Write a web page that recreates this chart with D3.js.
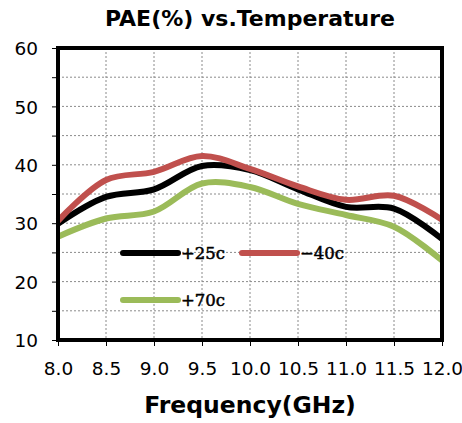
<!DOCTYPE html>
<html>
<head>
<meta charset="utf-8">
<script src="https://cdn.jsdelivr.net/npm/d3@7"></script>
<style>
  html, body { margin: 0; padding: 0; background: #fff; }
  svg { display: block; }
</style>
</head>
<body>
<svg id="chart" width="462" height="423"></svg>
<script>
// Frequency points (GHz)
const freqs = [8.0, 8.5, 9.0, 9.5, 10.0, 10.5, 11.0, 11.5, 12.0];
// PAE (%) per temperature
const pae25 = [29.9, 34.5, 35.8, 39.8, 39.1, 35.8, 32.8, 32.5, 27.3];
const paeM40 = [30.4, 37.4, 38.8, 41.5, 39.3, 36.3, 34.0, 34.7, 30.6];
const pae70 = [27.7, 30.8, 32.0, 36.8, 36.2, 33.3, 31.4, 29.4, 23.6];
const seriesNames = ["+25c", "\u221240c", "+70c"];
const seriesColors = ["#000000", "#C0504D", "#9BBB59"];
const xTicks = [8.0, 8.5, 9.0, 9.5, 10.0, 10.5, 11.0, 11.5, 12.0];
const yTicks = [10, 20, 30, 40, 50, 60];
const yMinor = [15, 25, 35, 45, 55];

const svg = d3.select("#chart");
const plotL = 58, plotR = 442, plotT = 48, plotB = 340;

const x = d3.scaleLinear().domain([8, 12]).range([plotL, plotR]);
const y = d3.scaleLinear().domain([10, 60]).range([plotB, plotT]);

// Grid
const grid = svg.append("g").attr("stroke", "#8a8a8a").attr("stroke-width", 1).attr("stroke-dasharray", "2,2");
xTicks.slice(1, -1).forEach(v => {
  grid.append("line").attr("x1", x(v)).attr("x2", x(v)).attr("y1", plotT).attr("y2", plotB);
});
yTicks.concat(yMinor).filter(v => v > 10 && v < 60).forEach(v => {
  grid.append("line").attr("x1", plotL).attr("x2", plotR).attr("y1", y(v)).attr("y2", y(v));
});

// Axes
const xAxis = d3.axisBottom(x).tickValues(xTicks).tickFormat(d3.format(".1f")).tickSize(6).tickPadding(16);
const yAxis = d3.axisLeft(y).tickValues(yTicks.concat(yMinor)).tickFormat(d => d % 10 === 0 ? d : "").tickSize(6).tickPadding(14);

const gx = svg.append("g").attr("transform", `translate(0,${plotB})`).call(xAxis);
const gy = svg.append("g").attr("transform", `translate(${plotL},0)`).call(yAxis);
[gx, gy].forEach(g => {
  g.select(".domain").remove();
  g.selectAll(".tick line").attr("stroke", "#000").attr("stroke-width", 1);
  g.selectAll(".tick text").attr("fill", "#000").style("font-family", "'DejaVu Sans', sans-serif").style("font-size", "18.5px");
});
gx.selectAll(".tick text").attr("dy", "0.71em");
gy.selectAll(".tick text").attr("dy", "0.36em");

// Series lines
const line = d3.line().x((d, i) => x(freqs[i])).y(d => y(d)).curve(d3.curveCatmullRom.alpha(0.5));
const allSeries = [pae25, paeM40, pae70];
const drawOrder = [2, 0, 1];
drawOrder.forEach(k => {
  svg.append("path").datum(allSeries[k]).attr("d", line)
    .attr("fill", "none").attr("stroke", seriesColors[k]).attr("stroke-width", 6)
    .attr("stroke-linejoin", "round");
});

// Frame
svg.append("rect").attr("x", plotL).attr("y", plotT).attr("width", plotR - plotL).attr("height", plotB - plotT)
  .attr("fill", "none").attr("stroke", "#000").attr("stroke-width", 4);

// Legend
const legendItems = [
  { k: 0, lx: 123, ly: 253 },
  { k: 1, lx: 242, ly: 253 },
  { k: 2, lx: 123, ly: 300 }
];
legendItems.forEach(it => {
  svg.append("line").attr("x1", it.lx).attr("x2", it.lx + 55).attr("y1", it.ly).attr("y2", it.ly)
    .attr("stroke", seriesColors[it.k]).attr("stroke-width", 6).attr("stroke-linecap", "round");
  svg.append("text").attr("x", it.lx + 58).attr("y", it.ly + 6)
    .style("font-family", "'DejaVu Serif', serif").style("font-size", "16.5px")
    .attr("fill", "#000").attr("stroke", "#000").attr("stroke-width", 0.5)
    .text(seriesNames[it.k]);
});

// Titles
svg.append("text").attr("x", 250).attr("y", 26).attr("text-anchor", "middle")
  .style("font-family", "'DejaVu Sans', sans-serif").style("font-weight", "bold").style("font-size", "22px")
  .text("PAE(%) vs.Temperature");
svg.append("text").attr("x", 250).attr("y", 413).attr("text-anchor", "middle")
  .style("font-family", "'DejaVu Sans', sans-serif").style("font-weight", "bold").style("font-size", "23.5px")
  .text("Frequency(GHz)");
</script>
</body>
</html>
